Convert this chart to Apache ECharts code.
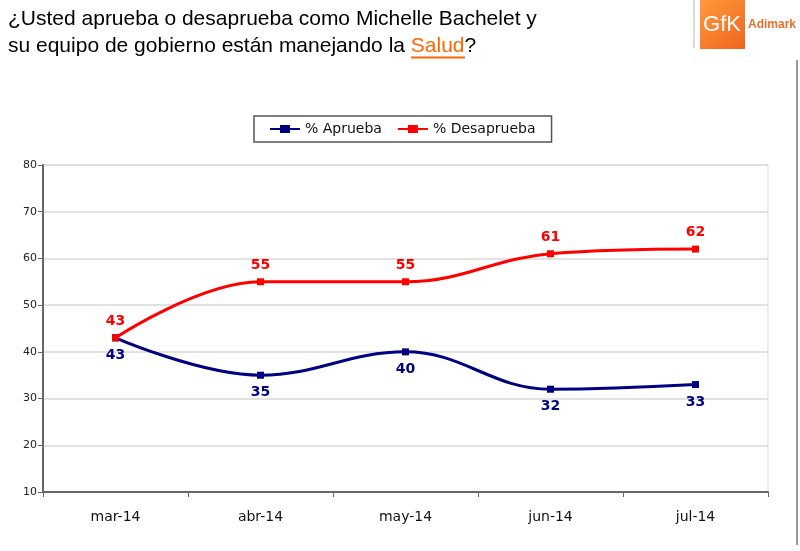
<!DOCTYPE html>
<html><head><meta charset="utf-8">
<script src="https://cdn.jsdelivr.net/npm/echarts@6/dist/echarts.min.js"></script>
<style>html,body{margin:0;padding:0;background:#fff}#c{width:800px;height:551px}</style>
</head><body><div id="c"></div>
<script>
var categories = ['mar-14','abr-14','may-14','jun-14','jul-14'];
var aprueba = [43, 35, 40, 32, 33];
var desaprueba = [43, 55, 55, 61, 62];
var yTicks = {min: 10, max: 80, interval: 10};

var chart = echarts.init(document.getElementById('c'));
var lblFont = 'DejaVu Sans, Verdana, sans-serif';
chart.setOption({
  animation: false,
  backgroundColor: '#fff',
  grid: {left: 43, right: 32, top: 165, bottom: 59, show: true, borderColor: '#d9d9d9', borderWidth: 1},
  legend: {
    left: 254, top: 116, width: 298, height: 29,
    padding: [6, 16, 6, 16],
    borderColor: '#555', borderWidth: 1.5,
    itemWidth: 30, itemHeight: 12, itemGap: 16,
    textStyle: {fontFamily: lblFont, fontSize: 14, color: '#111'},
    data: [
      {name: '% Aprueba', icon: 'path://M0,5 L10,5 L10,2 L20,2 L20,5 L30,5 L30,7 L20,7 L20,10 L10,10 L10,7 L0,7 Z'},
      {name: '% Desaprueba', icon: 'path://M0,5 L10,5 L10,2 L20,2 L20,5 L30,5 L30,7 L20,7 L20,10 L10,10 L10,7 L0,7 Z'}
    ]
  },
  xAxis: {
    type: 'category', data: categories, boundaryGap: true,
    axisLine: {lineStyle: {color: '#666', width: 2}},
    axisTick: {show: true, length: 5, lineStyle: {color: '#666'}},
    axisLabel: {fontFamily: lblFont, fontSize: 14, color: '#111', margin: 18}
  },
  yAxis: {
    type: 'value', min: yTicks.min, max: yTicks.max, interval: yTicks.interval,
    axisLine: {show: true, lineStyle: {color: '#666', width: 2}},
    axisTick: {show: true, length: 5, lineStyle: {color: '#666'}},
    axisLabel: {fontFamily: lblFont, fontSize: 11, color: '#222', margin: 6},
    splitLine: {lineStyle: {color: '#d9d9d9', width: 1.5}}
  },
  series: [
    {
      name: '% Aprueba', type: 'line', data: aprueba, smooth: 0.4,
      color: '#000080', symbol: 'rect', symbolSize: 7, showAllSymbol: true,
      lineStyle: {width: 3, color: '#000080'},
      itemStyle: {color: '#000080'},
      label: {show: true, position: 'bottom', distance: 7, fontFamily: lblFont, fontWeight: 'bold', fontSize: 14, color: '#000080'}
    },
    {
      name: '% Desaprueba', type: 'line', data: desaprueba, smooth: 0.4,
      color: '#ff0000', symbol: 'rect', symbolSize: 7, showAllSymbol: true,
      lineStyle: {width: 3, color: '#ff0000'},
      itemStyle: {color: '#ff0000'},
      label: {show: true, position: 'top', distance: 6, fontFamily: lblFont, fontWeight: 'bold', fontSize: 14, color: '#ff0000'}
    }
  ],
  graphic: [
    {type: 'text', left: 8, top: 6, style: {
      text: '¿Usted aprueba o desaprueba como Michelle Bachelet y\n{n|su equipo de gobierno están manejando la }{s|Salud}{n|?}',
      fontFamily: 'Liberation Sans, Arial, sans-serif', fontSize: 21, lineHeight: 27, fill: '#000',
      rich: {n: {fontFamily: 'Liberation Sans, Arial, sans-serif', fontSize: 21, fill: '#000'},
             s: {fontFamily: 'Liberation Sans, Arial, sans-serif', fontSize: 21, fill: '#ff6600'}}
    }},
    {type: 'line', shape: {x1: 411, y1: 57.5, x2: 465, y2: 57.5}, style: {stroke: '#ff6600', lineWidth: 2}},
    {type: 'line', shape: {x1: 694, y1: 0, x2: 694, y2: 48}, style: {stroke: '#bbb', lineWidth: 1}},
    {type: 'rect', shape: {x: 700, y: 0, width: 45, height: 49}, style: {
      fill: {type: 'linear', x: 0, y: 0, x2: 1, y2: 1, colorStops: [{offset: 0, color: '#ff9a3c'}, {offset: 1, color: '#f0641e'}]}}},
    {type: 'text', x: 722, y: 25, style: {text: 'GfK', fontFamily: 'Liberation Sans, Arial, sans-serif', fontSize: 22, fill: '#fff', align: 'center', verticalAlign: 'middle'}},
    {type: 'text', x: 748, y: 25, style: {text: 'Adimark', fontFamily: 'Liberation Sans, Arial, sans-serif', fontSize: 12, fontWeight: 'bold', fill: '#e8702a', verticalAlign: 'middle'}},
    {type: 'line', shape: {x1: 797, y1: 60, x2: 797, y2: 545}, style: {stroke: '#999', lineWidth: 2}}
  ]
});
</script></body></html>
